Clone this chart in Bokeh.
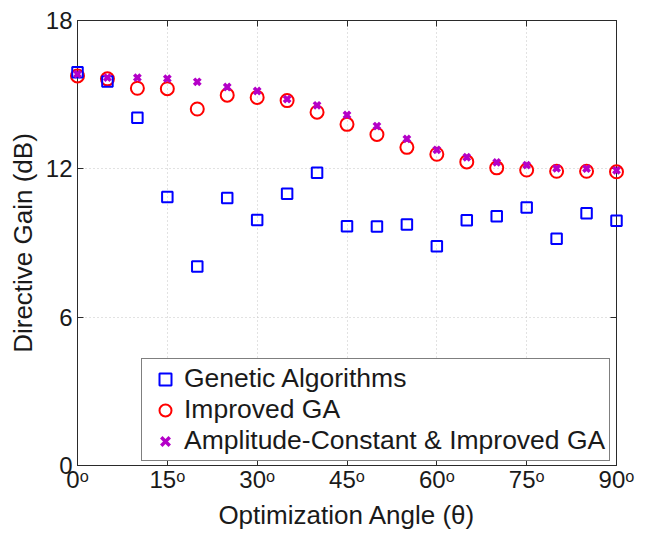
from bokeh.plotting import figure
from bokeh.models import Range1d, LinearAxis, FixedTicker, Legend, LegendItem
from bokeh.embed import file_html
from bokeh.resources import INLINE

angles = [0, 5, 10, 15, 20, 25, 30, 35, 40, 45, 50, 55, 60, 65, 70, 75, 80, 85, 90]
ga = [15.91, 15.53, 14.07, 10.86, 8.05, 10.82, 9.93, 10.99, 11.84, 9.68, 9.67,
      9.75, 8.87, 9.92, 10.08, 10.44, 9.17, 10.20, 9.90]
improved_ga = [15.76, 15.64, 15.26, 15.24, 14.42, 14.98, 14.89, 14.76, 14.29, 13.80,
               13.39, 12.87, 12.59, 12.28, 12.04, 11.95, 11.90, 11.90, 11.88]
amp_const = [15.83, 15.69, 15.69, 15.65, 15.52, 15.31, 15.15, 14.82, 14.57, 14.18,
             13.73, 13.21, 12.77, 12.47, 12.26, 12.15, 12.02, 12.01, 11.94]

x_ticks = [0, 15, 30, 45, 60, 75, 90]
x_tick_labels = ["0ᵒ", "15ᵒ", "30ᵒ", "45ᵒ", "60ᵒ", "75ᵒ", "90ᵒ"]
y_ticks = [0, 6, 12, 18]
series_names = ["Genetic Algorithms", "Improved GA", "Amplitude-Constant & Improved GA"]

FONT = "Liberation Sans"
AXC = "#2a2a2a"
TXT = "#1a1a1a"

p = figure(width=642, height=532, x_range=Range1d(0, 90), y_range=Range1d(0, 18),
           output_backend="svg", toolbar_location=None,
           min_border_left=77, min_border_right=26, min_border_top=20, min_border_bottom=65)
p.background_fill_color = "white"
p.border_fill_color = "white"
p.outline_line_color = AXC
p.outline_line_width = 1

def style_axis(ax, show_labels=True):
    ax.axis_line_color = AXC
    ax.major_tick_line_color = AXC
    ax.major_tick_in = 6
    ax.major_tick_out = 0
    ax.minor_tick_line_color = None
    ax.major_label_text_font = FONT
    if show_labels:
        ax.major_label_text_font_size = "24px"
        ax.major_label_text_color = TXT
    else:
        ax.major_label_text_font_size = "1px"
        ax.major_label_text_color = None
        ax.major_label_standoff = 0

p.xaxis.ticker = FixedTicker(ticks=x_ticks)
p.xaxis.major_label_overrides = {t: l for t, l in zip(x_ticks, x_tick_labels)}
p.yaxis.ticker = FixedTicker(ticks=y_ticks)
style_axis(p.xaxis[0])
style_axis(p.yaxis[0])
p.xaxis.major_label_standoff = 0
p.yaxis.major_label_standoff = 5
p.xaxis.axis_label = "Optimization Angle (θ)"
p.yaxis.axis_label = "Directive Gain (dB)"
for ax in (p.xaxis[0], p.yaxis[0]):
    ax.axis_label_text_font = FONT
    ax.axis_label_text_font_size = "26px"
    ax.axis_label_text_font_style = "normal"
    ax.axis_label_text_color = TXT
p.xaxis.axis_label_standoff = 4
p.yaxis.axis_label_standoff = 5

top_ax = LinearAxis(ticker=FixedTicker(ticks=x_ticks))
style_axis(top_ax, False)
right_ax = LinearAxis(ticker=FixedTicker(ticks=y_ticks))
style_axis(right_ax, False)
p.add_layout(top_ax, "above")
p.add_layout(right_ax, "right")

p.xgrid.ticker = FixedTicker(ticks=x_ticks)
p.ygrid.ticker = FixedTicker(ticks=y_ticks)
p.grid.grid_line_color = "#c4c4c4"
p.grid.grid_line_dash = "1 3"
p.grid.grid_line_width = 1

r_imp = p.scatter(angles, improved_ga, marker="circle", size=13, line_color="#ff0000",
                  line_width=2, fill_color=None, level="overlay")
r_ga = p.scatter(angles, ga, marker="square", size=10.5, line_color="#0000ff",
                 line_width=2, fill_color=None, level="overlay")
r_amp = p.scatter(angles, amp_const, marker="x", size=9, line_color="#b400c8",
                  line_width=3.5, level="overlay")

legend = Legend(items=[LegendItem(label=series_names[0], renderers=[r_ga]),
                       LegendItem(label=series_names[1], renderers=[r_imp]),
                       LegendItem(label=series_names[2], renderers=[r_amp])],
                location=(64, 4))
legend.label_text_font = FONT
legend.label_text_font_size = "26.5px"
legend.label_text_color = TXT
legend.border_line_color = "black"
legend.border_line_width = 1
legend.background_fill_color = "white"
legend.background_fill_alpha = 1
legend.padding = 4
legend.spacing = 0
legend.margin = 0
legend.glyph_width = 38
legend.glyph_height = 30
legend.label_height = 30
legend.label_standoff = 0
p.add_layout(legend, "center")

open("out.html", "w").write(file_html(p, INLINE))
